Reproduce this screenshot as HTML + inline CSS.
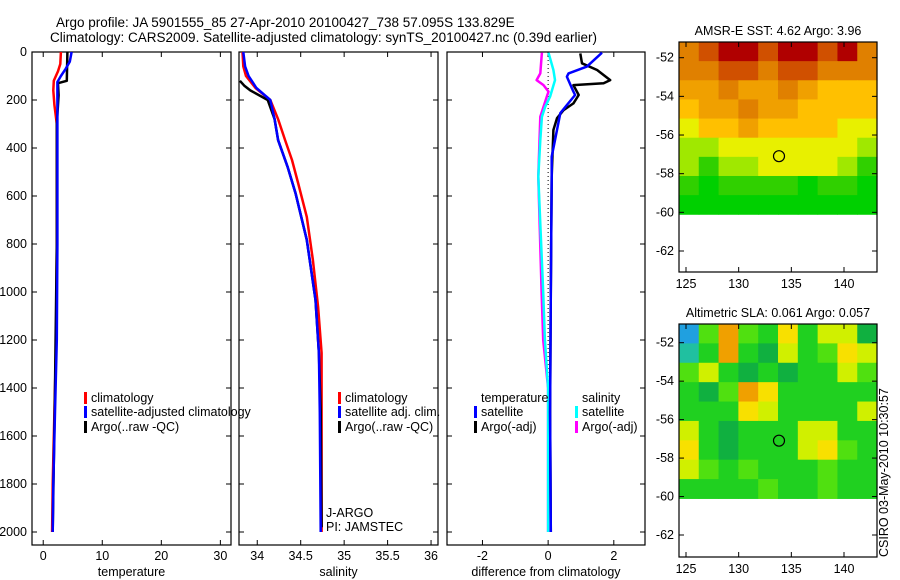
<!DOCTYPE html>
<html><head><meta charset="utf-8">
<style>
body{margin:0;background:#fff;}
svg{display:block;font-family:"Liberation Sans",Arial,sans-serif;}
text{font-size:12.5px;fill:#000;}
</style></head>
<body>
<svg id="fig" width="900" height="580" viewBox="0 0 900 580" xmlns="http://www.w3.org/2000/svg">
<text x="56" y="27" style="font-size:13.5px">Argo profile: JA 5901555_85 27-Apr-2010 20100427_738 57.095S 133.829E</text>
<text x="50" y="42" style="font-size:13.5px">Climatology: CARS2009. Satellite-adjusted climatology: synTS_20100427.nc (0.39d earlier)</text>
<text transform="translate(888,557) rotate(-90)">CSIRO 03-May-2010 10:30:57</text>
<g id="plots"></g>
</svg>
<script>
// ---------- profile data ----------
const depthTicks = [0,200,400,600,800,1000,1200,1400,1600,1800,2000];
const tempTicks = [0,10,20,30];
const salTicks = [34,34.5,35,35.5,36];
const salTickLabels = ["34","34.5","35","35.5","36"];
const diffTicks = [-2,0,2];

const tClimDepth = [0,50,80,120,160,220,300,400,800,1200,1500,1800,2000];
const tClimVal   = [3.0,2.9,2.5,1.8,1.7,1.9,2.3,2.3,2.3,2.2,1.9,1.6,1.5];
const tSatDepth  = [0,40,70,100,125,200,400,800,1200,1500,1800,2000];
const tSatVal    = [4.8,4.5,3.8,3.0,2.4,2.4,2.4,2.4,2.3,2.0,1.7,1.6];
const tArgoDepth = [0,120,130,180,300,800,1400,2000];
const tArgoVal   = [4.1,4.0,2.5,2.6,2.3,2.3,2.0,1.6];

const sClimDepth = [0,60,100,150,200,280,367,450,546,687,867,1062,1254,1500,2000];
const sClimVal   = [33.83,33.84,33.87,33.98,34.15,34.24,34.32,34.40,34.47,34.57,34.64,34.70,34.74,34.74,34.74];
const sSatDepth  = [0,60,100,150,200,280,367,480,588,783,1033,1254,1500,2000];
const sSatVal    = [33.84,33.86,33.90,33.99,34.15,34.20,34.24,34.35,34.44,34.57,34.67,34.71,34.72,34.73];
const sArgoDepth = [120,140,160,200,280,367,480,588,783,1033,1254,1500,1980];
const sArgoVal   = [33.80,33.85,33.92,34.12,34.20,34.24,34.35,34.44,34.57,34.67,34.71,34.73,34.74];

const dTSatDepth  = [3,61,89,103,165,179,221,255,367,436,519,1000,1500,2000];
const dTSatVal    = [1.64,1.18,0.62,0.57,0.77,0.82,0.57,0.37,0.21,0.11,0.11,0.08,0.06,0.08];
const dTArgoDepth = [6,47,75,117,130,138,179,214,242,276,325,519,1000,1500,2000];
const dTArgoVal   = [0.98,1.03,1.49,1.89,1.69,0.77,0.93,0.77,0.47,0.27,0.16,0.11,0.08,0.06,0.08];
const dSSatDepth  = [3,75,117,186,228,270,367,519,1000,1200,1400,2000];
const dSSatVal    = [0.01,0.16,0.21,0.06,-0.09,-0.19,-0.24,-0.30,-0.15,-0.1,0.0,0.0];
const dSArgoDepth = [3,89,117,138,165,186,270,519,1000,1200,1400,2000];
const dSArgoVal   = [-0.19,-0.24,-0.35,-0.14,0.01,-0.04,-0.24,-0.30,-0.2,-0.15,0.0,0.0];

// ---------- map data ----------
const mapLatTicks = [-52,-54,-56,-58,-60,-62];
const mapLonTicks = [125,130,135,140];
const sstGrid = [
 [7,8,9,9,8,9,9,8,9,7],
 [7,7,8,8,7,8,8,7,7,7],
 [6,6,7,6,6,7,6,5,5,5],
 [5,6,6,7,6,6,5,5,5,5],
 [4,5,5,6,5,5,5,5,4,4],
 [3,3,4,4,4,4,4,4,4,3],
 [3,2,3,3,4,4,4,4,3,2],
 [2,1,2,2,2,2,1,2,2,1],
 [1,1,1,1,1,1,1,1,1,1]];
const slaGrid = [
 [0,4,7,4,3,6,3,5,5,2],
 [1,3,7,3,2,5,3,4,6,5],
 [4,5,3,2,3,2,3,3,5,4],
 [3,2,4,7,6,3,3,3,3,3],
 [3,3,3,6,5,3,3,3,3,5],
 [5,3,2,3,3,3,5,5,3,3],
 [6,3,2,3,3,3,5,6,4,3],
 [5,4,3,4,3,3,3,4,3,3],
 [3,3,3,3,4,3,3,4,3,3]];
const sstColors = ["#00c0c0","#00d000","#30d000","#a0e800","#e8f000","#ffc000","#f0a000","#e08000","#d05000","#b00000"];
const slaColors = ["#20a0e0","#20c0a0","#10b040","#20d020","#50e010","#d0f000","#f8e000","#f0a000"];

const NS="http://www.w3.org/2000/svg";
const root=document.getElementById('plots');
function mk(tag,attrs,parent){const e=document.createElementNS(NS,tag);for(const k in attrs)e.setAttribute(k,attrs[k]);(parent||root).appendChild(e);return e;}

const Y0=52, Y1=532, PB=545;
function yD(d){return Y0+(d/2000)*(Y1-Y0);}

function panel(name,x0,x1,vmin,vmax,ticks,labels,xlabel,showY){
  const g=mk('g',{});
  
  
  const sx=v=>x0+(v-vmin)/(vmax-vmin)*(x1-x0);
  const r=mk('rect',{x:x0,y:Y0,width:x1-x0,height:PB-Y0,fill:'none',stroke:'#000','stroke-width':1.2},g);
  
  
  depthTicks.forEach(d=>{
    mk('line',{x1:x0,x2:x0+5,y1:yD(d),y2:yD(d),stroke:'#000'},g);
    mk('line',{x1:x1,x2:x1-5,y1:yD(d),y2:yD(d),stroke:'#000'},g);
    if(showY){const t=mk('text',{x:x0-5,y:yD(d)+4,'text-anchor':'end'},g);t.textContent=d;
      
      }
  });
  ticks.forEach((v,i)=>{
    mk('line',{x1:sx(v),x2:sx(v),y1:Y0,y2:Y0+5,stroke:'#000'},g);
    mk('line',{x1:sx(v),x2:sx(v),y1:PB,y2:PB-5,stroke:'#000'},g);
    const t=mk('text',{x:sx(v),y:PB+15,'text-anchor':'middle'},g);t.textContent=labels[i];
    
    
  });
  const xl=mk('text',{x:(x0+x1)/2,y:PB+31,'text-anchor':'middle'},g);xl.textContent=xlabel;
  
  
  return {g,sx};
}
function line(p,depths,vals,color,name,w){
  const pts=depths.map((d,i)=>p.sx(vals[i]).toFixed(1)+','+yD(d).toFixed(1)).join(' ');
  const l=mk('polyline',{points:pts,fill:'none',stroke:color,'stroke-width':w||2.5,'stroke-linejoin':'round'},p.g);
  
  
}
function legend(g,x,y,color,label,name){
  if(color){const b=mk('rect',{x:x-7,y:y-10,width:3,height:12,fill:color},g);
    
    }
  const t=mk('text',{x:x,y:y},g);t.textContent=label;
  
  
}

const pT=panel('temperature-panel',32,231,-1.9,31.8,tempTicks,tempTicks.map(String),'temperature',true);
line(pT,tClimDepth,tClimVal,'#f00','temp-climatology-line');
line(pT,tArgoDepth,tArgoVal,'#000','temp-argo-line');
line(pT,tSatDepth,tSatVal,'#00f','temp-satellite-line');
legend(pT.g,91,402,'#f00','climatology','legend-climatology');
legend(pT.g,91,416,'#00f','satellite-adjusted climatology','legend-satellite-adjusted');
legend(pT.g,91,431,'#000','Argo(..raw -QC)','legend-argo');

const pS=panel('salinity-panel',239,438,33.79,36.08,salTicks,salTickLabels,'salinity',false);
line(pS,sClimDepth,sClimVal,'#f00','sal-climatology-line');
line(pS,sArgoDepth,sArgoVal,'#000','sal-argo-line');
line(pS,sSatDepth,sSatVal,'#00f','sal-satellite-line');
legend(pS.g,345,402,'#f00','climatology','legend-climatology');
legend(pS.g,345,416,'#00f','satellite adj. clim.','legend-satellite-adj');
legend(pS.g,345,431,'#000','Argo(..raw -QC)','legend-argo');
legend(pS.g,326,517,null,'J-ARGO','j-argo-label');
legend(pS.g,326,531,null,'PI: JAMSTEC','pi-label');

const pD=panel('difference-panel',447,645,-3.08,2.95,diffTicks,diffTicks.map(String),'difference from climatology',false);
const z=mk('line',{x1:pD.sx(0),x2:pD.sx(0),y1:Y0,y2:Y1,stroke:'#000','stroke-dasharray':'1,3'},pD.g);


line(pD,dSArgoDepth,dSArgoVal,'#f0f','diff-sal-argo-line');
line(pD,dSSatDepth,dSSatVal,'#0ff','diff-sal-satellite-line');
line(pD,dTArgoDepth,dTArgoVal,'#000','diff-temp-argo-line');
line(pD,dTSatDepth,dTSatVal,'#00f','diff-temp-satellite-line');
legend(pD.g,481,402,null,'temperature','legend-temperature-heading');
legend(pD.g,481,416,'#00f','satellite','legend-temp-satellite');
legend(pD.g,481,431,'#000','Argo(-adj)','legend-temp-argo');
legend(pD.g,582,402,null,'salinity','legend-salinity-heading');
legend(pD.g,582,416,'#0ff','satellite','legend-sal-satellite');
legend(pD.g,582,431,'#f0f','Argo(-adj)','legend-sal-argo');

function map(name,top,bottom,lat52,lat62,grid,colors,title){
  const g=mk('g',{});
  
  
  const x0=679,x1=877;
  const sx=lon=>686+(lon-125)*(844-686)/15;
  const sy=lat=>lat52+(lat+52)*(lat62-lat52)/(-10);
  const lonMin=124.33,lonMax=143.14,latTop=-52+(top-lat52)/((lat62-lat52)/-10),latBot=-60.1;
  const nr=grid.length,nc=grid[0].length;
  const dLon=(lonMax-lonMin)/nc,dLat=(latTop-latBot)/nr;
  grid.forEach((row,i)=>row.forEach((v,j)=>{
    const xa=sx(lonMin+j*dLon),xb=sx(lonMin+(j+1)*dLon);
    const ya=sy(latTop-i*dLat),yb=sy(latTop-(i+1)*dLat);
    const c=mk('rect',{x:xa,y:ya,width:xb-xa+0.5,height:yb-ya+0.5,fill:colors[v]},g);
    
    
  }));
  mk('rect',{x:x0,y:top,width:x1-x0,height:bottom-top,fill:'none',stroke:'#000','stroke-width':1.2},g);
  mapLatTicks.forEach(l=>{
    mk('line',{x1:x0,x2:x0+5,y1:sy(l),y2:sy(l),stroke:'#000'},g);
    mk('line',{x1:x1,x2:x1-5,y1:sy(l),y2:sy(l),stroke:'#000'},g);
    const t=mk('text',{x:x0-5,y:sy(l)+4,'text-anchor':'end'},g);t.textContent=l;
    
    
  });
  mapLonTicks.forEach(l=>{
    mk('line',{x1:sx(l),x2:sx(l),y1:top,y2:top+5,stroke:'#000'},g);
    mk('line',{x1:sx(l),x2:sx(l),y1:bottom,y2:bottom-5,stroke:'#000'},g);
    const t=mk('text',{x:sx(l),y:bottom+16,'text-anchor':'middle'},g);t.textContent=l;
    
    
  });
  const c=mk('circle',{cx:sx(133.829),cy:sy(-57.095),r:5.5,fill:'none',stroke:'#000','stroke-width':1.2},g);
  
  
  const tt=mk('text',{x:(x0+x1)/2,y:top-7,'text-anchor':'middle'},g);tt.textContent=title;
  
  
}
map('sst-map',42,272,57.7,251,sstGrid,sstColors,'AMSR-E SST: 4.62 Argo: 3.96');
map('sla-map',324,557,342.7,535,slaGrid,slaColors,'Altimetric SLA: 0.061 Argo: 0.057');
</script>
</body></html>
